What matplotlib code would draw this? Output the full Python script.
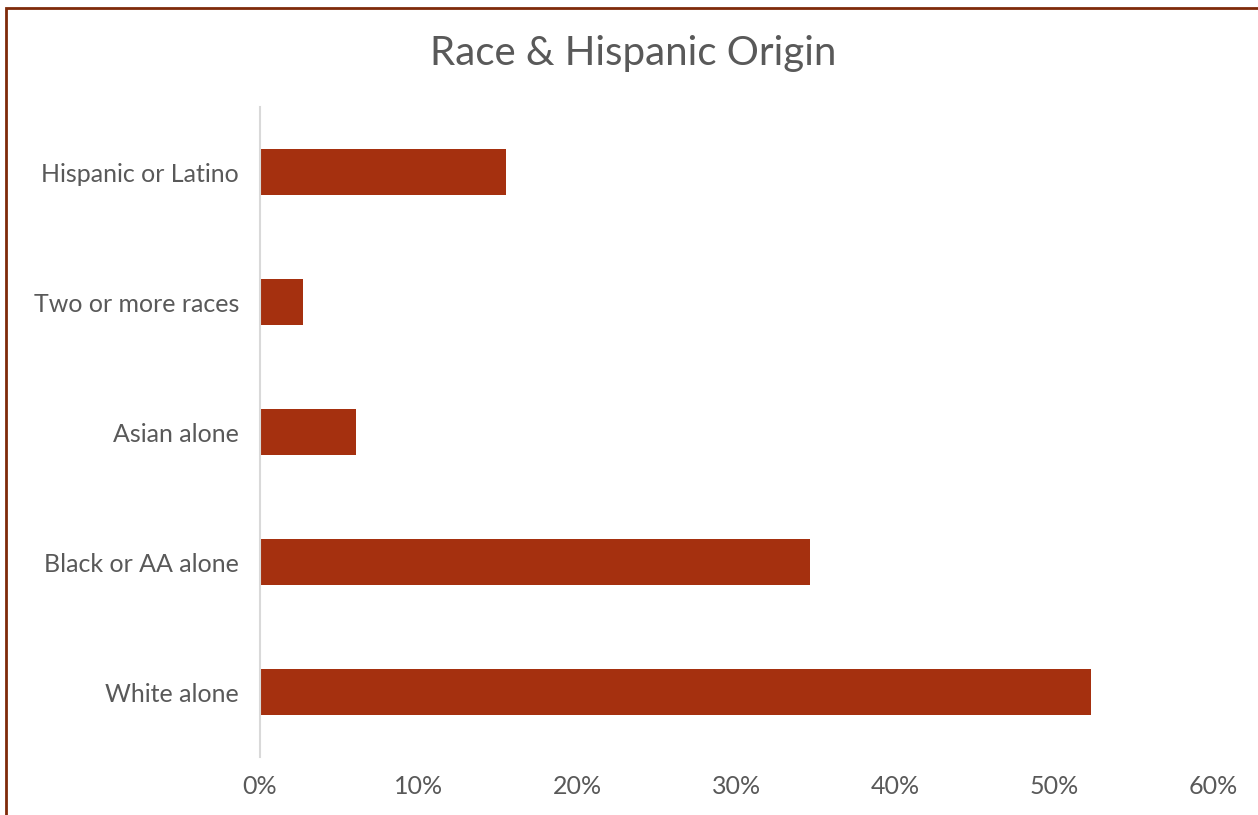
import matplotlib.pyplot as plt
from matplotlib.patches import Rectangle
from matplotlib.ticker import FuncFormatter

categories = ["White alone", "Black or AA alone", "Asian alone", "Two or more races", "Hispanic or Latino"]
shares = [52.3, 34.6, 6.05, 2.7, 15.5]

bar_color = "#A5300F"
text_color = "#595959"

plt.rcParams['font.family'] = ['Lato', 'DejaVu Sans']

W, H = 1258, 815
fig = plt.figure(figsize=(W / 100, H / 100), dpi=100)
ax = fig.add_axes([260 / W, 1 - 757 / H, (1213 - 260) / W, (757 - 107) / H])

ax.barh(range(len(categories)), shares, height=0.35, color=bar_color)
ax.set_yticks(range(len(categories)))
ax.set_yticklabels(categories)
ax.set_xlim(0, 60)
ax.set_ylim(-0.5, len(categories) - 0.5)
ax.set_xticks(range(0, 61, 10))
ax.xaxis.set_major_formatter(FuncFormatter(lambda v, p: f"{v:.0f}%"))

for s in ["top", "right", "bottom"]:
    ax.spines[s].set_visible(False)
ax.spines["left"].set_color("#D9D9D9")
ax.spines["left"].set_linewidth(1.5)
ax.tick_params(axis="both", length=0, colors=text_color, labelsize=18)
ax.tick_params(axis="y", pad=15)
ax.tick_params(axis="x", pad=13)

fig.text(633 / W, 1 - 53 / H, "Race & Hispanic Origin", ha="center", va="center",
         fontsize=29, color=text_color)

# outer chart border (only top and left edges show in the crop)
fig.patches.append(Rectangle((6 / W, -0.05), 1.2, 1 - 8 / H + 0.05, transform=fig.transFigure,
                             fill=False, edgecolor="#7F2A0A", linewidth=2))

fig.savefig("out.png", dpi=100, facecolor="white")
